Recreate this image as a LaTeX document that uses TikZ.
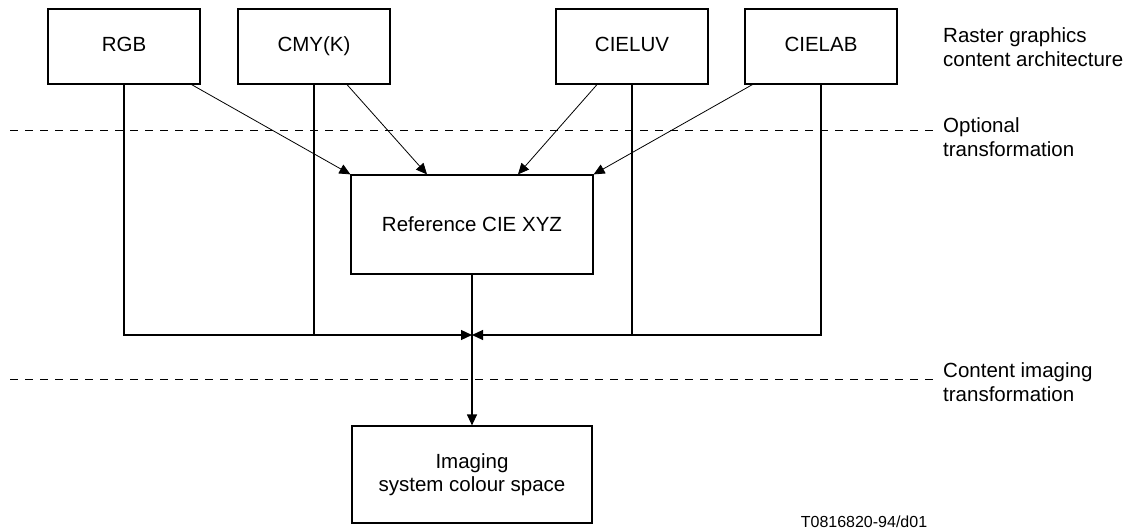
\documentclass[tikz,border=0pt]{standalone}
\usepackage{fontspec}
\setmainfont{Liberation Sans}
\usetikzlibrary{arrows.meta}
\newcommand\figfont{\fontsize{20.5}{23.5}\selectfont}
\newcommand\tagfont{\fontsize{16}{19}\selectfont}
\begin{document}
\begin{tikzpicture}[x=1pt, y=-1pt]
  \tikzset{
    box/.style={rectangle, draw, line width=1.2pt, inner sep=0pt, align=center,
                minimum width=152pt, minimum height=75pt, font=\figfont},
    side/.style={anchor=west, align=left, inner sep=0pt, font=\figfont},
    layer/.style={dashed, dash pattern=on 7.5pt off 7.5pt, line width=0.9pt},
    line/.style={line width=1.2pt},
    conn/.style={line width=1.2pt, -{Triangle[length=11pt, width=10pt]}},
    optarr/.style={line width=0.8pt, -{Triangle[length=11pt, width=10pt]}},
  }
  \useasboundingbox (0,0) rectangle (1127,529);
  % Colour spaces (top row)
  \foreach \x/\name/\lbl in {124/rgb/RGB,314/cmy/{CMY(K)},632/luv/CIELUV,821/lab/CIELAB}{
    \node[box, text height=15pt, text depth=4pt] (\name) at (\x,46.5) {\lbl};
  }
  \node[box, minimum width=242pt, minimum height=99pt] (xyz) at (472,224.5) {Reference CIE XYZ};
  \node[box, minimum width=240pt, minimum height=97pt] (img) at (472,474.5) {Imaging\\system colour space};
  \coordinate (join) at (472,335);
  % Layer boundaries and their labels
  \draw[layer] (10,130) -- (935,130);
  \draw[layer] (10,379) -- (935,379);
  \node[side] (lraster) at (943,47)  {Raster graphics\\content architecture};
  \node[side] (lopt)    at (943,137) {Optional\\transformation};
  \node[side] (lcim)    at (943,382) {Content imaging\\transformation};
  \node[font=\tagfont, inner sep=0pt] (tag) at (864,522) {T0816820-94/d01};
  % Optional transformation via reference space
  \draw[optarr] ([xshift=-9pt]rgb.south east) -- (xyz.north west);
  \draw[optarr] ([xshift=33pt]cmy.south) -- ([xshift=-45pt]xyz.north);
  \draw[optarr] ([xshift=-35pt]luv.south) -- ([xshift=46pt]xyz.north);
  \draw[optarr] ([xshift=8pt]lab.south west) -- (xyz.north east);
  % Direct paths
  \draw[conn] (rgb.south) |- (join);
  \draw[conn] (lab.south) |- (join);
  \draw[line] (cmy.south) -- (cmy.south |- join);
  \draw[line] (luv.south) -- (luv.south |- join);
  \draw[conn] (xyz.south) -- (img.north);
\end{tikzpicture}
\end{document}
